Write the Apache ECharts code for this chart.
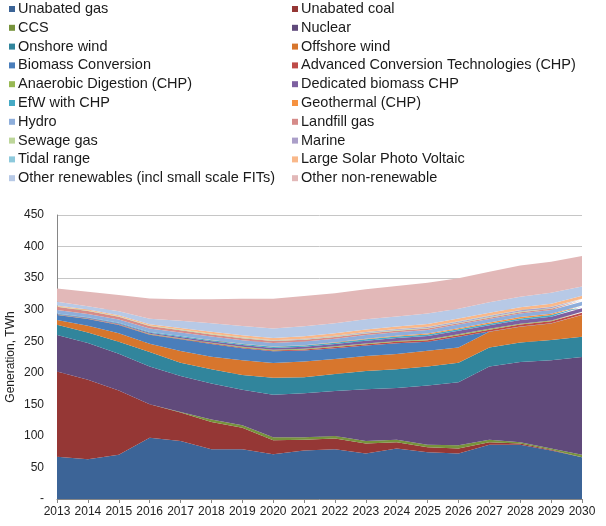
<!DOCTYPE html>
<html>
<head>
<meta charset="utf-8">
<script src="https://cdn.jsdelivr.net/npm/echarts@6/dist/echarts.min.js"></script>
<style>
  html, body { margin: 0; padding: 0; background: #fff; }
  #chart { width: 606px; height: 526px; }
</style>
</head>
<body>
<div id="chart"></div>
<script>
// years on the x axis
var years = ['2013', '2014', '2015', '2016', '2017', '2018', '2019', '2020', '2021',
             '2022', '2023', '2024', '2025', '2026', '2027', '2028', '2029', '2030'];

// generation by technology, TWh
var unabatedGas   = [67, 63, 70, 97, 92, 79, 79, 71, 77, 79, 72, 80, 74, 72, 86, 86, 77, 66];
var unabatedCoal  = [135, 126, 102, 53, 45, 43, 34, 22, 17, 17, 16, 10, 8, 8, 4, 2, 1, 0];
var ccs           = [0, 0, 0, 0, 1, 4, 4, 5, 4, 4, 4, 4, 4, 5, 4, 2, 2, 4];
var nuclear       = [58, 58, 58, 60, 57, 57, 56, 67, 69.5, 71, 82, 82, 94, 100, 116, 127, 140, 155];
var onshoreWind   = [16, 17, 19, 23, 21, 22.5, 23.5, 27, 25.5, 27, 29, 29.5, 30, 31, 30, 31, 32, 32];
var offshoreWind  = [7.7, 10.5, 13.5, 13, 18.5, 20, 23.5, 23.6, 25, 24, 23.6, 24.3, 25, 24, 25, 25, 26, 34.6];
var biomassConv   = [8, 10.7, 13.3, 14.4, 18.5, 20, 18.8, 18.4, 17.3, 17, 16.5, 17, 14, 17, 0.5, 0.5, 0.5, 0.5];
var act           = [0.1, 0.3, 0.5, 0.7, 0.9, 1.1, 1.3, 1.4, 1.6, 1.8, 2.0, 2.2, 2.4, 2.6, 2.8, 3.0, 3.1, 3.2];
var anaerobic     = [0.5, 0.6, 0.7, 0.8, 0.9, 1.0, 1.0, 1.1, 1.1, 1.2, 1.2, 1.2, 1.3, 1.3, 1.3, 1.3, 1.4, 1.4];
var dedBiomass    = [1.0, 1.1, 1.2, 1.5, 2.0, 2.4, 2.8, 2.8, 3.2, 3.5, 4.5, 4.8, 5.5, 5.5, 5.6, 5.8, 5.8, 5.5];
var efw           = [0.8, 0.9, 1.0, 1.2, 1.4, 1.6, 1.8, 1.9, 2.0, 2.1, 2.2, 2.3, 2.4, 2.5, 2.5, 2.6, 2.6, 2.6];
var geothermal    = [0, 0, 0, 0.1, 0.2, 0.3, 0.4, 0.5, 0.6, 0.8, 1.0, 1.2, 1.5, 1.6, 1.8, 2.0, 2.2, 2.0];
var hydro         = [5.5, 5.2, 5.3, 5.4, 5.5, 5.5, 5.6, 5.6, 5.7, 5.7, 5.7, 5.8, 5.8, 5.8, 5.8, 5.9, 5.9, 5.9];
var landfill      = [5.0, 4.6, 4.2, 3.9, 3.6, 3.4, 3.2, 3.0, 2.8, 2.6, 2.4, 2.3, 2.2, 2.1, 2.0, 1.9, 1.8, 1.7];
var sewage        = [0.8, 0.8, 0.8, 0.8, 0.9, 0.9, 0.9, 0.9, 1.0, 1.0, 1.0, 1.0, 1.0, 1.0, 1.0, 1.0, 1.0, 1.0];
var marine        = [0, 0, 0, 0, 0.1, 0.2, 0.3, 0.4, 0.6, 0.8, 1.0, 1.2, 1.4, 1.6, 1.8, 1.9, 2.0, 1.2];
var tidal         = [0, 0, 0, 0, 0, 0, 0, 0, 0, 0, 0.5, 0.5, 0.5, 0.5, 0.5, 0.5, 0.5, 0.5];
var largeSolar    = [1.3, 1.6, 1.8, 2.0, 2.5, 3.0, 3.5, 3.7, 3.9, 4.0, 4.1, 4.2, 4.3, 4.4, 4.5, 4.6, 4.7, 4.8];
var otherRen      = [6, 5, 6, 9, 11.5, 13.5, 14.5, 15, 16, 16, 16, 15.5, 16.5, 15.5, 16.5, 16.5, 17.5, 15];
var otherNonRen   = [21, 23, 26, 32, 34, 38, 43, 47, 48, 47.5, 47.5, 48.5, 49, 48.5, 48.5, 49.5, 49, 48];

// stacking order = legend order, read row by row
var seriesList = [
    ['Unabated gas', unabatedGas, '#3c6497'],
    ['Unabated coal', unabatedCoal, '#953735'],
    ['CCS', ccs, '#77933c'],
    ['Nuclear', nuclear, '#604a7b'],
    ['Onshore wind', onshoreWind, '#31859c'],
    ['Offshore wind', offshoreWind, '#d7762d'],
    ['Biomass Conversion', biomassConv, '#4a7ebb'],
    ['Advanced Conversion Technologies (CHP)', act, '#be4b48'],
    ['Anaerobic Digestion (CHP)', anaerobic, '#98b954'],
    ['Dedicated biomass CHP', dedBiomass, '#7d60a0'],
    ['EfW with CHP', efw, '#46aac5'],
    ['Geothermal (CHP)', geothermal, '#f69240'],
    ['Hydro', hydro, '#8eaedb'],
    ['Landfill gas', landfill, '#d68b89'],
    ['Sewage gas', sewage, '#bdd69a'],
    ['Marine', marine, '#ab9fc9'],
    ['Tidal range', tidal, '#8dc9dc'],
    ['Large Solar Photo Voltaic', largeSolar, '#f9b88a'],
    ['Other renewables (incl small scale FITs)', otherRen, '#b7c9e6'],
    ['Other non-renewable', otherNonRen, '#e2b8b8']
];

var leftNames = [], rightNames = [];
var series = seriesList.map(function (s, i) {
    (i % 2 === 0 ? leftNames : rightNames).push(s[0]);
    return {
        name: s[0],
        type: 'line',
        stack: 'total',
        data: s[1],
        symbol: 'none',
        lineStyle: { width: 0 },
        areaStyle: { color: s[2], opacity: 1 },
        itemStyle: { color: s[2] },
        emphasis: { disabled: true }
    };
});

var legendCommon = {
    orient: 'vertical',
    top: 1,
    padding: 0,
    icon: 'rect',
    itemWidth: 6,
    itemHeight: 6,
    itemGap: 2.8,
    selectedMode: false,
    textStyle: { fontFamily: 'Liberation Sans', fontSize: 14.5, color: '#1a1a1a', lineHeight: 16, padding: [0, 0, 0, -2] }
};

var myChart = echarts.init(document.getElementById('chart'));
var option = {
    animation: false,
    backgroundColor: '#fff',
    textStyle: { fontFamily: 'Liberation Sans' },
    legend: [
        Object.assign({ left: 9, data: leftNames }, legendCommon),
        Object.assign({ left: 292, data: rightNames }, legendCommon)
    ],
    grid: { left: 57, right: 24, top: 215, bottom: 27, outerBoundsMode: 'none' },
    xAxis: {
        type: 'category',
        data: years,
        boundaryGap: false,
        axisLine: { lineStyle: { color: '#868686' } },
        axisTick: { show: true, length: 4, lineStyle: { color: '#868686' } },
        axisLabel: { color: '#222', fontSize: 12, margin: 7, interval: 0 }
    },
    yAxis: {
        type: 'value',
        min: 0,
        max: 450,
        interval: 50,
        name: 'Generation, TWh',
        nameLocation: 'middle',
        nameGap: 40,
        nameMoveOverlap: false,
        nameTextStyle: { color: '#222', fontSize: 12 },
        axisLine: { show: true, lineStyle: { color: '#868686' } },
        axisTick: { show: false },
        axisLabel: {
            color: '#222', fontSize: 12, margin: 13,
            formatter: function (v) { return v === 0 ? '-' : v; }
        },
        splitLine: { lineStyle: { color: '#c6c6c6' } }
    },
    series: series
};
myChart.setOption(option);
</script>
</body>
</html>
